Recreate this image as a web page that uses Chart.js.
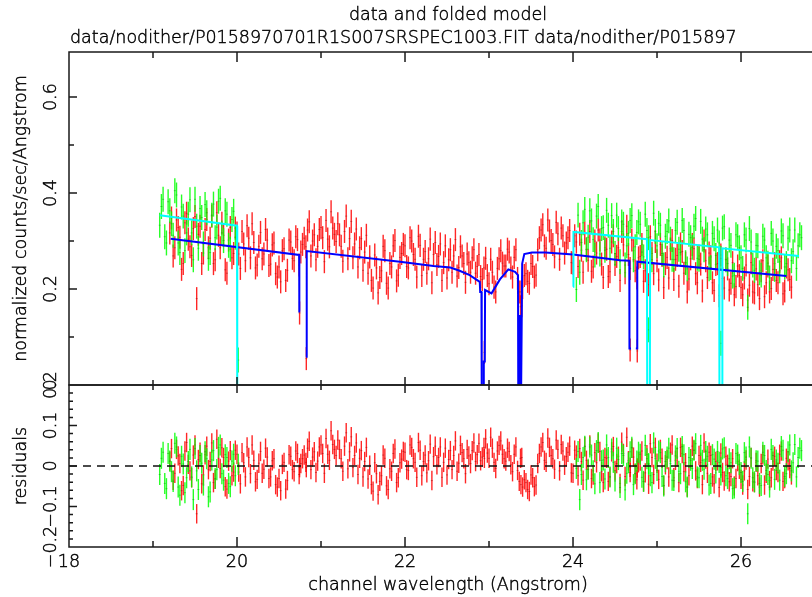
<!DOCTYPE html>
<html>
<head>
<meta charset="utf-8">
<script src="https://cdn.jsdelivr.net/npm/chart.js@4.4.1/dist/chart.umd.min.js"></script>
<style>
  html, body { margin: 0; padding: 0; background: #fff; }
  #wrap { position: relative; width: 812px; height: 597px; }
  canvas { position: absolute; left: 0; top: 0; }
</style>
</head>
<body>
<div id="wrap">
  <canvas id="upper" width="812" height="597"></canvas>
  <canvas id="lower" width="812" height="597"></canvas>
</div>
<script>
// ---- data ----
const titleLines = ['data and folded model', 'data/nodither/P0158970701R1S007SRSPEC1003.FIT data/nodither/P015897'];
const yTitleTop = 'normalized counts/sec/Angstrom';
const yTitleBottom = 'residuals';
const xTitle = 'channel wavelength (Angstrom)';

const xTicks = [18, 20, 22, 24, 26];
const xMinor = [19, 21, 23, 25];
const xLabels = ['18', '20', '22', '24', '26'];
const rateTicks = [0, 0.2, 0.4, 0.6];
const rateMinor = [0.1, 0.3, 0.5];
const rateLabels = ['0', '0.2', '0.4', '0.6'];
const residTicks = [-0.2, -0.1, 0, 0.1, 0.2];
const residMinor = [-0.18, -0.16, -0.14, -0.12, -0.08, -0.06, -0.04, -0.02, 0.02, 0.04, 0.06, 0.08, 0.12, 0.14, 0.16, 0.18];
const residLabels = ['\u22120.2', '\u22120.1', '0', '0.1', '0.2'];

// RGS1 (red): channels every 0.04 A from 19.20, and the ones in between from 19.22
const redStep = 0.04, redErr = 0.024;
const redStart = 19.20, redStartOdd = 19.22;
const redRate = [
  0.317, 0.269, 0.344, 0.308, 0.253, 0.358, 0.288, 0.326, 0.180, 0.331,
  0.275, 0.345, 0.306, 0.253, 0.359, 0.286, 0.312, 0.233, 0.328, 0.274,
  0.317, 0.243, 0.294, 0.332, 0.265, 0.297, 0.250, 0.318, 0.273, 0.302,
  0.252, 0.296, 0.225, 0.215, 0.284, 0.239, 0.298, 0.259, 0.303, 0.277,
  0.306, 0.323, 0.269, 0.313, 0.289, 0.328, 0.257, 0.304, 0.361, 0.314,
  0.336, 0.289, 0.320, 0.263, 0.341, 0.294, 0.246, 0.305, 0.277, 0.233,
  0.218, 0.271, 0.192, 0.238, 0.280, 0.202, 0.246, 0.301, 0.229, 0.274,
  0.290, 0.244, 0.300, 0.262, 0.310, 0.228, 0.278, 0.263, 0.213, 0.297,
  0.268, 0.218, 0.290, 0.261, 0.235, 0.303, 0.245, 0.269, 0.214, 0.255,
  0.265, 0.233, 0.272, 0.220, 0.264, 0.211, 0.235, 0.194, 0.263, 0.254,
  0.248, 0.277, 0.225, 0.282, 0.194, 0.203, 0.232, 0.212, 0.247, 0.229,
  0.307, 0.334, 0.285, 0.321, 0.293, 0.339, 0.262, 0.311, 0.296, 0.322,
  0.254, 0.298, 0.314, 0.235, 0.283, 0.320, 0.246, 0.275, 0.302, 0.224,
  0.283, 0.236, 0.311, 0.268, 0.218, 0.292, 0.331, 0.243, 0.280, 0.223,
  0.268, 0.216, 0.283, 0.309, 0.232, 0.259, 0.293, 0.203, 0.266, 0.284,
  0.220, 0.270, 0.294, 0.233, 0.194, 0.263, 0.284, 0.213, 0.252, 0.300,
  0.224, 0.267, 0.197, 0.253, 0.271, 0.202, 0.242, 0.212, 0.188, 0.248,
  0.203, 0.223, 0.177, 0.255, 0.192, 0.209, 0.238, 0.184, 0.248, 0.201,
  0.253, 0.213, 0.265, 0.196, 0.240, 0.204
];
const redResid = [
  0.012, -0.035, 0.041, 0.006, -0.048, 0.058, -0.012, 0.027, -0.118, 0.034,
  -0.022, 0.049, 0.011, -0.041, 0.066, -0.006, 0.021, -0.057, 0.038, -0.015,
  0.029, -0.044, 0.008, 0.047, -0.019, 0.014, -0.033, 0.036, -0.008, 0.022,
  -0.027, 0.018, -0.052, -0.061, 0.009, -0.036, 0.024, -0.014, 0.031, 0.006,
  0.027, 0.044, -0.009, 0.035, 0.012, 0.052, -0.018, 0.029, 0.087, 0.041,
  0.064, 0.018, 0.049, -0.007, 0.072, 0.026, -0.021, 0.038, 0.011, -0.032,
  -0.046, 0.008, -0.071, -0.024, 0.019, -0.058, -0.013, 0.042, -0.029, 0.017,
  0.034, -0.011, 0.046, 0.009, 0.058, -0.024, 0.027, 0.013, -0.036, 0.049,
  0.021, -0.028, 0.044, 0.016, -0.009, 0.062, 0.007, 0.033, -0.019, 0.025,
  0.038, 0.011, 0.056, 0.022, 0.067, 0.019, 0.044, -0.006, 0.051, 0.029,
  0.012, 0.036, -0.014, 0.047, -0.038, -0.052, -0.041, -0.063, -0.029, -0.047,
  0.031, 0.058, 0.009, 0.046, 0.018, 0.064, -0.012, 0.037, 0.023, 0.049,
  -0.018, 0.027, 0.043, -0.035, 0.014, 0.052, -0.022, 0.008, 0.036, -0.041,
  0.019, -0.027, 0.048, 0.006, -0.043, 0.031, 0.071, -0.016, 0.022, -0.034,
  0.012, -0.039, 0.028, 0.055, -0.021, 0.007, 0.041, -0.048, 0.016, 0.034,
  -0.029, 0.022, 0.046, -0.014, -0.052, 0.018, 0.039, -0.031, 0.009, 0.057,
  -0.018, 0.026, -0.044, 0.013, 0.032, -0.037, 0.004, -0.026, -0.049, 0.011,
  -0.033, -0.012, -0.058, 0.021, -0.041, -0.024, 0.006, -0.047, 0.017, -0.029,
  0.024, -0.016, 0.037, -0.031, 0.013, -0.022
];
const redRateOdd = [
  0.348, 0.286, 0.328, 0.241, 0.338, 0.304, 0.270, 0.351, 0.314, 0.253,
  0.324, 0.286, 0.352, 0.261, 0.312, 0.337, 0.240, 0.302, 0.265, 0.327,
  0.273, 0.320, 0.259, 0.306, 0.336, 0.244, 0.289, 0.263, 0.324, 0.249,
  0.292, 0.232, 0.246, 0.280, 0.218, 0.302, 0.264, 0.309, 0.250, 0.293,
  0.288, 0.340, 0.300, 0.261, 0.324, 0.307, 0.343, 0.288, 0.327, 0.299,
  0.313, 0.258, 0.352, 0.305, 0.265, 0.325, 0.286, 0.239, 0.312, 0.267,
  0.202, 0.244, 0.224, 0.289, 0.212, 0.253, 0.290, 0.217, 0.266, 0.293,
  0.247, 0.307, 0.272, 0.225, 0.291, 0.262, 0.233, 0.304, 0.272, 0.251,
  0.294, 0.255, 0.223, 0.282, 0.269, 0.227, 0.288, 0.253, 0.273, 0.235,
  0.282, 0.247, 0.226, 0.244, 0.228, 0.262, 0.204, 0.243, 0.280, 0.248,
  0.283, 0.244, 0.266, 0.222, 0.194, 0.228, 0.216, 0.253, 0.225, 0.282,
  0.323, 0.290, 0.344, 0.301, 0.267, 0.315, 0.327, 0.275, 0.307, 0.255,
  0.311, 0.247, 0.281, 0.317, 0.260, 0.237, 0.300, 0.323, 0.252, 0.286,
  0.226, 0.298, 0.251, 0.286, 0.320, 0.234, 0.272, 0.302, 0.238, 0.265,
  0.293, 0.238, 0.209, 0.274, 0.299, 0.219, 0.270, 0.253, 0.223, 0.301,
  0.262, 0.206, 0.278, 0.254, 0.221, 0.293, 0.232, 0.269, 0.196, 0.259,
  0.275, 0.213, 0.251, 0.186, 0.222, 0.262, 0.198, 0.255, 0.205, 0.228,
  0.188, 0.250, 0.208, 0.194, 0.242, 0.180, 0.259, 0.213, 0.194, 0.241,
  0.218, 0.257, 0.190, 0.246, 0.220
];
const redResidOdd = [
  0.043, -0.018, 0.025, -0.061, 0.037, 0.004, -0.029, 0.052, 0.016, -0.044,
  0.028, -0.009, 0.057, -0.033, 0.019, 0.045, -0.051, 0.012, -0.024, 0.039,
  -0.015, 0.033, -0.027, 0.021, 0.052, -0.039, 0.007, -0.018, 0.044, -0.031,
  0.013, -0.046, -0.031, 0.004, -0.057, 0.028, -0.009, 0.037, -0.021, 0.018,
  0.009, 0.061, 0.022, -0.016, 0.047, 0.031, 0.068, 0.014, 0.053, 0.026,
  0.041, -0.013, 0.082, 0.035, -0.004, 0.057, 0.019, -0.027, 0.046, 0.002,
  -0.062, -0.019, -0.038, 0.027, -0.049, -0.007, 0.031, -0.041, 0.008, 0.036,
  -0.009, 0.052, 0.018, -0.028, 0.039, 0.011, -0.017, 0.054, 0.023, 0.003,
  0.047, 0.009, -0.022, 0.038, 0.026, -0.013, 0.051, 0.018, 0.041, 0.006,
  0.057, 0.028, 0.013, 0.046, 0.032, 0.071, 0.009, 0.037, 0.062, 0.018,
  0.044, 0.003, 0.029, -0.011, -0.046, -0.034, -0.058, -0.022, -0.051, 0.006,
  0.047, 0.014, 0.069, 0.026, -0.008, 0.041, 0.053, 0.002, 0.034, -0.017,
  0.039, -0.024, 0.011, 0.048, -0.009, -0.031, 0.033, 0.057, -0.014, 0.021,
  -0.038, 0.035, -0.011, 0.024, 0.059, -0.026, 0.013, 0.044, -0.019, 0.008,
  0.037, -0.017, -0.045, 0.021, 0.046, -0.033, 0.019, 0.003, -0.027, 0.052,
  0.014, -0.041, 0.031, 0.008, -0.024, 0.049, -0.012, 0.026, -0.046, 0.017,
  0.034, -0.027, 0.011, -0.053, -0.016, 0.024, -0.039, 0.018, -0.031, -0.008,
  -0.047, 0.015, -0.026, -0.039, 0.009, -0.052, 0.028, -0.018, -0.036, 0.012,
  -0.011, 0.029, -0.038, 0.019, -0.006
];
// red channels sitting in the absorption lines
const redLineX = [20.745, 20.825, 22.945, 23.375, 23.39, 24.68, 24.765];
const redLineRate = [0.150, 0.055, 0.068, 0.163, 0.165, 0.073, 0.071];
const redLineResid = [-0.004, -0.004, 0.019, 0.019, 0.021, -0.003, -0.005];

// RGS2 (green): two stretches, channels every 0.04 A plus the ones in between
const greenStep = 0.04, greenErr = 0.026;
const greenAStart = 19.08, greenAStartOdd = 19.10;
const greenBStart = 24.04, greenBStartOdd = 24.06;
const greenARate = [
  0.333, 0.387, 0.296, 0.363, 0.312, 0.396, 0.276, 0.352, 0.317, 0.386,
  0.261, 0.331, 0.368, 0.294, 0.359, 0.276, 0.377, 0.329, 0.389, 0.301,
  0.356, 0.283, 0.362
];
const greenAResid = [
  -0.021, 0.034, -0.056, 0.012, -0.038, 0.047, -0.072, 0.005, -0.029, 0.041,
  -0.083, -0.012, 0.026, -0.047, 0.018, -0.064, 0.038, -0.009, 0.052, -0.035,
  0.021, -0.051, 0.029
];
const greenARateOdd = [
  0.372, 0.309, 0.382, 0.336, 0.405, 0.296, 0.371, 0.280, 0.356, 0.317,
  0.387, 0.285, 0.349, 0.376, 0.264, 0.354, 0.307, 0.383, 0.317, 0.363,
  0.291, 0.345, 0.308
];
const greenAResidOdd = [
  0.019, -0.043, 0.031, -0.014, 0.056, -0.052, 0.024, -0.066, 0.011, -0.027,
  0.043, -0.058, 0.007, 0.035, -0.076, 0.015, -0.031, 0.046, -0.019, 0.028,
  -0.043, 0.012, -0.024
];
const greenBRate = [
  0.199, 0.235, 0.338, 0.282, 0.363, 0.303, 0.352, 0.273, 0.328, 0.364,
  0.285, 0.320, 0.354, 0.257, 0.335, 0.290, 0.343, 0.261, 0.318, 0.335,
  0.267, 0.322, 0.278, 0.358, 0.290, 0.333, 0.250, 0.320, 0.304, 0.261,
  0.339, 0.276, 0.322, 0.242, 0.307, 0.331, 0.264, 0.341, 0.282, 0.313,
  0.245, 0.305, 0.323, 0.264, 0.330, 0.253, 0.291, 0.229, 0.309, 0.265,
  0.313, 0.162, 0.298, 0.239, 0.290, 0.229, 0.302, 0.254, 0.316, 0.241,
  0.280, 0.321, 0.246, 0.306, 0.259, 0.323, 0.290, 0.307
];
const greenBResid = [
  -0.006, -0.083, 0.021, -0.034, 0.047, -0.012, 0.038, -0.041, 0.015, 0.052,
  -0.027, 0.009, 0.044, -0.053, 0.026, -0.018, 0.035, -0.046, 0.012, 0.029,
  -0.038, 0.018, -0.024, 0.057, -0.011, 0.033, -0.049, 0.022, 0.006, -0.036,
  0.043, -0.019, 0.028, -0.052, 0.014, 0.039, -0.027, 0.051, -0.008, 0.024,
  -0.043, 0.017, 0.036, -0.022, 0.045, -0.031, 0.008, -0.054, 0.027, -0.016,
  0.033, -0.118, 0.019, -0.039, 0.012, -0.048, 0.026, -0.021, 0.041, -0.033,
  0.007, 0.048, -0.026, 0.035, -0.012, 0.053, 0.021, 0.038
];
const greenBRateOdd = [
  0.354, 0.297, 0.366, 0.308, 0.342, 0.271, 0.372, 0.326, 0.281, 0.333,
  0.353, 0.274, 0.326, 0.340, 0.250, 0.316, 0.353, 0.288, 0.340, 0.277,
  0.356, 0.307, 0.261, 0.320, 0.337, 0.274, 0.310, 0.342, 0.262, 0.322,
  0.283, 0.343, 0.255, 0.314, 0.287, 0.347, 0.262, 0.304, 0.325, 0.242,
  0.316, 0.270, 0.296, 0.327, 0.261, 0.302, 0.227, 0.313, 0.286, 0.243,
  0.302, 0.326, 0.250, 0.291, 0.234, 0.310, 0.265, 0.223, 0.300, 0.289,
  0.238, 0.311, 0.253, 0.323, 0.278, 0.243, 0.313
];
const greenBResidOdd = [
  0.036, -0.021, 0.049, -0.008, 0.027, -0.044, 0.058, 0.013, -0.032, 0.021,
  0.042, -0.037, 0.016, 0.031, -0.059, 0.008, 0.046, -0.019, 0.034, -0.028,
  0.051, 0.004, -0.041, 0.019, 0.037, -0.026, 0.011, 0.044, -0.035, 0.025,
  -0.013, 0.048, -0.039, 0.021, -0.006, 0.055, -0.029, 0.014, 0.036, -0.047,
  0.028, -0.017, 0.009, 0.042, -0.024, 0.018, -0.056, 0.031, 0.004, -0.038,
  0.022, 0.047, -0.029, 0.013, -0.043, 0.034, -0.011, -0.052, 0.026, 0.015,
  -0.035, 0.039, -0.019, 0.052, 0.008, -0.027, 0.044
];
const greenLineX = [20.015, 24.90, 25.76];
const greenLineRate = [0.052, 0.115, 0.087];
const greenLineResid = [0.004, 0.006, -0.003];

// folded models (null = no channels there)
const blueModelX = [19.21, 20.74, 20.742, 20.752, 20.754, 20.82, 20.826, 20.83, 21.94, 22.34,
  22.54, 22.65, 22.77, 22.89, 22.895, 22.91, 22.913, 22.935, 22.938, 22.95,
  22.953, 23.03, 23.13, 23.23, 23.31, 23.345, 23.348, 23.365, 23.368, 23.38,
  23.383, 23.392, 23.395, 23.42, 23.51, 23.67, 24.0, 24.56, 24.67, 24.672,
  24.69, 24.692, 24.748, 24.762, 24.765, 26.54];
const blueModelY = [0.305, 0.271, 0.153, 0.153, null, 0.059, 0.059, 0.279, 0.257, 0.248,
  0.245, 0.238, 0.229, 0.215, 0.194, 0.194, 0, 0, 0.049, 0.049,
  0.198, 0.191, 0.220, 0.241, 0.236, 0.229, 0, 0, 0.144, 0.144,
  0, 0, 0.253, 0.273, 0.276, 0.276, 0.272, 0.260, 0.259, 0.076,
  0.076, null, 0.076, 0.076, 0.257, 0.227];
const cyanModelX = [19.08, 20.0, 20.003, 20.04, 20.042, 24.0, 24.005, 24.88, 24.883, 24.915,
  24.918, 25.74, 25.743, 25.775, 25.778, 26.69];
const cyanModelY = [0.354, 0.332, 0, 0, null, 0.205, 0.319, 0.304, 0, 0,
  0.302, 0.287, 0, 0, 0.285, 0.269];

// ---- helpers ----
const FONT = '200 17.5px "DejaVu Sans", "Liberation Sans", sans-serif';

function binned(start, step, vals) {
  return vals.map((v, i) => ({ x: Math.round((start + i * step) * 1000) / 1000, y: v }));
}
function pairs(xs, ys) {
  return xs.map((x, i) => ({ x: x, y: ys[i] }));
}
// thin PGPLOT-like lettering: light face plus a hairline outline
function label(ctx, txt, x, y) {
  ctx.fillText(txt, x, y);
  ctx.strokeText(txt, x, y);
}
function vText(ctx, txt, x, y) {
  ctx.save();
  ctx.translate(x, y);
  ctx.rotate(-Math.PI / 2);
  ctx.textAlign = 'center';
  ctx.textBaseline = 'middle';
  label(ctx, txt, 0, 0);
  ctx.restore();
}
function textStyle(ctx) {
  ctx.fillStyle = '#000';
  ctx.strokeStyle = '#000';
  ctx.lineWidth = 0.45;
  ctx.font = FONT;
}

const redPts = binned(redStart, redStep, redRate)
  .concat(binned(redStartOdd, redStep, redRateOdd), pairs(redLineX, redLineRate));
const redResPts = binned(redStart, redStep, redResid)
  .concat(binned(redStartOdd, redStep, redResidOdd), pairs(redLineX, redLineResid));
const greenPts = binned(greenAStart, greenStep, greenARate).concat(
  binned(greenAStartOdd, greenStep, greenARateOdd),
  binned(greenBStart, greenStep, greenBRate),
  binned(greenBStartOdd, greenStep, greenBRateOdd),
  pairs(greenLineX, greenLineRate));
const greenResPts = binned(greenAStart, greenStep, greenAResid).concat(
  binned(greenAStartOdd, greenStep, greenAResidOdd),
  binned(greenBStart, greenStep, greenBResid),
  binned(greenBStartOdd, greenStep, greenBResidOdd),
  pairs(greenLineX, greenLineResid));

// error bars, drawn under the model lines
const errorBars = {
  id: 'errorBars',
  beforeDatasetsDraw(chart) {
    const { ctx, chartArea: a, scales: { x, y } } = chart;
    ctx.save();
    ctx.beginPath();
    ctx.rect(a.left, a.top, a.right - a.left, a.bottom - a.top);
    ctx.clip();
    for (let i = chart.data.datasets.length - 1; i >= 0; i--) {
      const ds = chart.data.datasets[i];
      if (!ds.errorBar) continue;
      ctx.strokeStyle = ds.barColor;
      ctx.lineWidth = 1.4;
      ds.data.forEach(p => {
        const px = x.getPixelForValue(p.x);
        ctx.beginPath();
        ctx.moveTo(px, y.getPixelForValue(p.y + ds.errorBar));
        ctx.lineTo(px, y.getPixelForValue(p.y - ds.errorBar));
        ctx.stroke();
      });
      ctx.strokeStyle = ds.markColor;
      ctx.lineWidth = 1;
      ctx.beginPath();
      ds.data.forEach(p => {
        const px = x.getPixelForValue(p.x), py = y.getPixelForValue(p.y);
        ctx.moveTo(px - 1, py);
        ctx.lineTo(px + 1, py);
      });
      ctx.stroke();
    }
    ctx.restore();
  }
};

const upperDecor = {
  id: 'upperDecor',
  afterDraw(chart) {
    const { ctx, chartArea: a, scales: { x, y } } = chart;
    ctx.save();
    ctx.strokeStyle = '#1a1a1a';
    ctx.lineWidth = 1.5;
    ctx.beginPath();
    ctx.moveTo(a.right, a.top); ctx.lineTo(a.left, a.top);
    ctx.lineTo(a.left, a.bottom); ctx.lineTo(a.right, a.bottom);
    rateTicks.forEach(v => { const py = y.getPixelForValue(v); ctx.moveTo(a.left, py); ctx.lineTo(a.left + 8, py); });
    rateMinor.forEach(v => { const py = y.getPixelForValue(v); ctx.moveTo(a.left, py); ctx.lineTo(a.left + 5, py); });
    xTicks.forEach(v => {
      const px = x.getPixelForValue(v);
      ctx.moveTo(px, a.top); ctx.lineTo(px, a.top + 10);
      ctx.moveTo(px, a.bottom); ctx.lineTo(px, a.bottom - 8);
    });
    xMinor.forEach(v => {
      const px = x.getPixelForValue(v);
      ctx.moveTo(px, a.top); ctx.lineTo(px, a.top + 6);
      ctx.moveTo(px, a.bottom); ctx.lineTo(px, a.bottom - 5);
    });
    ctx.stroke();

    textStyle(ctx);
    rateTicks.forEach((v, i) => vText(ctx, rateLabels[i], 51, y.getPixelForValue(v)));
    vText(ctx, yTitleTop, 21, (a.top + a.bottom) / 2);
    ctx.textBaseline = 'middle';
    ctx.textAlign = 'center';
    label(ctx, titleLines[0], 448, 15);
    ctx.textAlign = 'left';
    label(ctx, titleLines[1], 70, 38);
    ctx.restore();
  }
};

const lowerDecor = {
  id: 'lowerDecor',
  afterDatasetsDraw(chart) {
    const { ctx, chartArea: a, scales: { y } } = chart;
    const py = y.getPixelForValue(0);
    ctx.save();
    ctx.strokeStyle = '#111';
    ctx.lineWidth = 1.4;
    ctx.setLineDash([8, 6]);
    ctx.beginPath();
    ctx.moveTo(a.left, py); ctx.lineTo(a.right, py);
    ctx.stroke();
    ctx.restore();
  },
  afterDraw(chart) {
    const { ctx, chartArea: a, scales: { x, y } } = chart;
    ctx.save();
    ctx.strokeStyle = '#1a1a1a';
    ctx.lineWidth = 1.5;
    ctx.beginPath();
    ctx.moveTo(a.right, a.top); ctx.lineTo(a.left, a.top);
    ctx.lineTo(a.left, a.bottom); ctx.lineTo(a.right, a.bottom);
    residTicks.forEach(v => { const p = y.getPixelForValue(v); ctx.moveTo(a.left, p); ctx.lineTo(a.left + 8, p); });
    residMinor.forEach(v => { const p = y.getPixelForValue(v); ctx.moveTo(a.left, p); ctx.lineTo(a.left + 4, p); });
    xTicks.forEach(v => {
      const px = x.getPixelForValue(v);
      ctx.moveTo(px, a.bottom); ctx.lineTo(px, a.bottom - 10);
      ctx.moveTo(px, a.top); ctx.lineTo(px, a.top + 8);
    });
    xMinor.forEach(v => {
      const px = x.getPixelForValue(v);
      ctx.moveTo(px, a.bottom); ctx.lineTo(px, a.bottom - 6);
      ctx.moveTo(px, a.top); ctx.lineTo(px, a.top + 5);
    });
    ctx.stroke();

    textStyle(ctx);
    residTicks.forEach((v, i) => vText(ctx, residLabels[i], 51, y.getPixelForValue(v)));
    vText(ctx, yTitleBottom, 21, (a.top + a.bottom) / 2);
    ctx.textAlign = 'center';
    ctx.textBaseline = 'middle';
    xTicks.forEach((v, i) => label(ctx, xLabels[i], x.getPixelForValue(v), 562));
    label(ctx, xTitle, 448, 585);
    ctx.restore();
  }
};

function panelOptions(padTop, padBottom, yMin, yMax) {
  return {
    responsive: false,
    animation: false,
    devicePixelRatio: 1,
    events: [],
    layout: { padding: { left: 69, right: 0, top: padTop, bottom: padBottom } },
    plugins: { legend: { display: false }, tooltip: { enabled: false } },
    scales: {
      x: { type: 'linear', min: 18, max: 26.845, display: false },
      y: { type: 'linear', min: yMin, max: yMax, display: false }
    }
  };
}

const greenStyle = { barColor: 'rgba(0,255,0,0.85)', markColor: 'rgba(0,150,0,0.45)' };
const redStyle = { barColor: 'rgba(255,0,0,0.85)', markColor: 'rgba(150,0,0,0.45)' };

new Chart(document.getElementById('upper'), {
  type: 'scatter',
  data: {
    datasets: [
      { data: pairs(cyanModelX, cyanModelY), showLine: true, spanGaps: false, borderColor: '#00ffff', borderWidth: 2, pointRadius: 0 },
      { data: pairs(blueModelX, blueModelY), showLine: true, spanGaps: false, borderColor: '#0000ff', borderWidth: 2, pointRadius: 0 },
      Object.assign({ data: greenPts, pointRadius: 0, errorBar: greenErr }, greenStyle),
      Object.assign({ data: redPts, pointRadius: 0, errorBar: redErr }, redStyle)
    ]
  },
  options: panelOptions(52, 212, 0, 0.694),
  plugins: [errorBars, upperDecor]
});

new Chart(document.getElementById('lower'), {
  type: 'scatter',
  data: {
    datasets: [
      Object.assign({ data: greenResPts, pointRadius: 0, errorBar: greenErr }, greenStyle),
      Object.assign({ data: redResPts, pointRadius: 0, errorBar: redErr }, redStyle)
    ]
  },
  options: panelOptions(385, 50, -0.2, 0.2),
  plugins: [errorBars, lowerDecor]
});
</script>
</body>
</html>
